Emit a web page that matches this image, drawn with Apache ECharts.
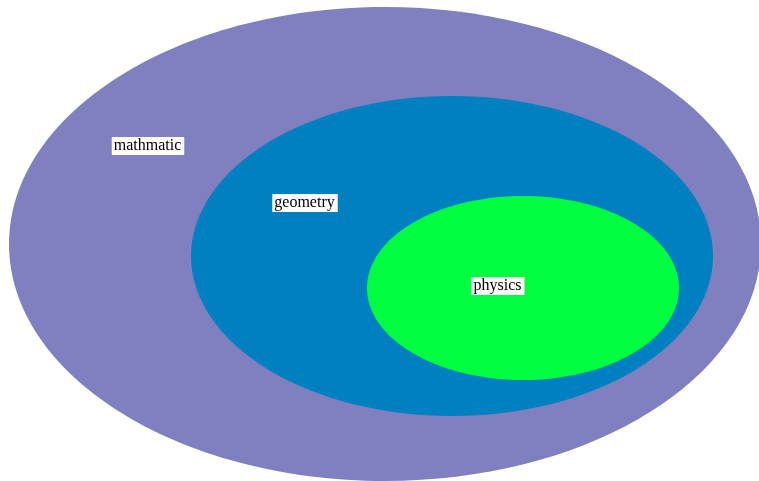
<!DOCTYPE html>
<html>
<head>
<meta charset="utf-8">
<script src="https://cdn.jsdelivr.net/npm/echarts@6/dist/echarts.min.js"></script>
<style>
  html, body { margin: 0; padding: 0; background: #fff; }
  #chart { width: 759px; height: 481px; }
</style>
</head>
<body>
<div id="chart"></div>
<script>
// sets, outer to inner
const names = ['mathmatic', 'geometry', 'physics'];
const centerX = [385, 452, 523];
const centerY = [244, 256, 288];
const radiusX = [376, 261, 156];
const radiusY = [237, 160, 92];
const labelX = [148, 305, 498];
const labelY = [146, 203, 286];
const colors = ['#8080c0', '#0080c0', '#00ff40'];

let chart = echarts.init(document.getElementById('chart'));

let data = names.map((n, i) => [n, centerX[i], centerY[i], radiusX[i], radiusY[i], labelX[i], labelY[i]]);

let option = {
  animation: false,
  grid: { left: 0, right: 0, top: 0, bottom: 0 },
  xAxis: { type: 'value', min: 0, max: 759, show: false },
  yAxis: { type: 'value', min: 0, max: 481, inverse: true, show: false },
  series: [{
    type: 'custom',
    clip: false,
    data: data,
    renderItem: function (params, api) {
      let c = api.coord([api.value(1), api.value(2)]);
      let s = api.size([api.value(3), api.value(4)]);
      let p = api.coord([api.value(5), api.value(6)]);
      return {
        type: 'group',
        children: [
          {
            type: 'ellipse',
            shape: { cx: c[0], cy: c[1], rx: Math.abs(s[0]), ry: Math.abs(s[1]) },
            style: { fill: colors[params.dataIndex] }
          },
          {
            type: 'text',
            x: p[0],
            y: p[1],
            z2: 10,
            style: {
              text: names[params.dataIndex],
              fill: '#000',
              fontSize: 16,
              fontFamily: 'Liberation Serif',
              align: 'center',
              verticalAlign: 'middle',
              backgroundColor: '#fff',
              padding: [1, 3, 1, 2]
            }
          }
        ]
      };
    }
  }]
};
chart.setOption(option);
</script>
</body>
</html>
